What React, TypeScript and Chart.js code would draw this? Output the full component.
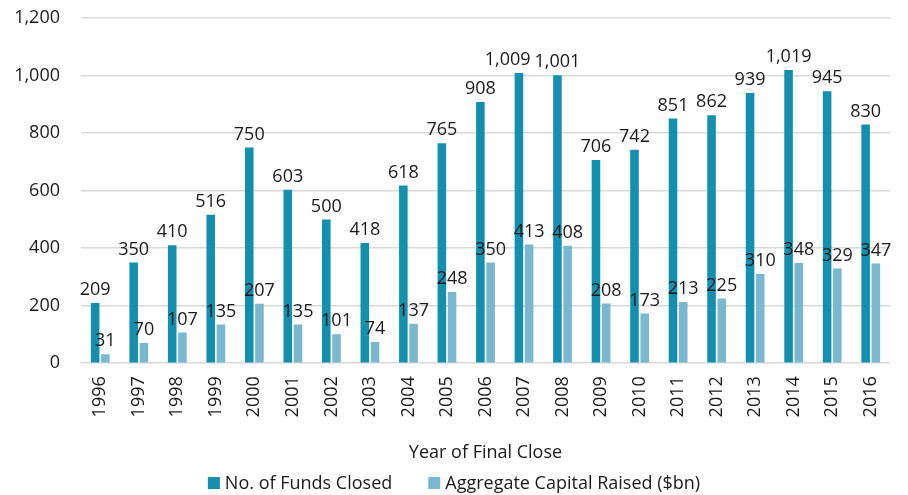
import React, { useEffect, useRef } from "react";
import { Chart, registerables } from "chart.js";

Chart.register(...registerables);

const years = ["1996","1997","1998","1999","2000","2001","2002","2003","2004","2005","2006","2007","2008","2009","2010","2011","2012","2013","2014","2015","2016"];
const fundsClosed = [209,350,410,516,750,603,500,418,618,765,908,1009,1001,706,742,851,862,939,1019,945,830];
const capitalRaised = [31,70,107,135,207,135,101,74,137,248,350,413,408,208,173,213,225,310,348,329,347];
const yTicks = [0, 200, 400, 600, 800, 1000, 1200];
const seriesNames = ["No. of Funds Closed", "Aggregate Capital Raised ($bn)"];
const seriesColors = ["#1490ae", "#7ab8cf"];

const FONT = "'Open Sans', 'Noto Sans', sans-serif";
const TEXT = "#1a1a1a";

const labelPlugin = {
  id: "barLabels",
  afterDatasetsDraw(chart: any) {
    const ctx = chart.ctx;
    ctx.save();
    ctx.font = `18px ${FONT}`;
    ctx.fillStyle = TEXT;
    ctx.textAlign = "center";
    ctx.textBaseline = "bottom";
    chart.data.datasets.forEach((ds: any, di: number) => {
      const meta = chart.getDatasetMeta(di);
      const items = meta.data.map((el: any, i: number) => {
        const txt = ds.data[i].toLocaleString("en-US");
        const w = ctx.measureText(txt).width;
        return { txt, w, x: el.x, y: el.y - 4 };
      });
      for (let i = items.length - 2; i >= 0; i--) {
        const a = items[i], b = items[i + 1];
        if (Math.abs(a.y - b.y) < 18) {
          const aRight = a.x + a.w / 2;
          const bLeft = b.x - b.w / 2;
          if (aRight > bLeft - 4) a.x -= aRight - (bLeft - 4);
        }
      }
      items.forEach((it: any) => ctx.fillText(it.txt, it.x, it.y));
    });
    ctx.restore();
  },
};

const legendPlugin = {
  id: "customLegend",
  afterDraw(chart: any) {
    const ctx = chart.ctx;
    ctx.save();
    ctx.font = `18px ${FONT}`;
    const box = 12, gapText = 5, gapItem = 36;
    const widths = seriesNames.map((n) => ctx.measureText(n).width);
    const total = widths.reduce((s, w) => s + box + gapText + w, 0) + gapItem * (seriesNames.length - 1);
    let x = (chart.width - total) / 2;
    const yc = 483;
    ctx.textBaseline = "middle";
    ctx.textAlign = "left";
    seriesNames.forEach((n, i) => {
      ctx.fillStyle = seriesColors[i];
      ctx.fillRect(x, yc - 6, box, box);
      ctx.fillStyle = TEXT;
      ctx.fillText(n, x + box + gapText, yc + 1);
      x += box + gapText + widths[i] + gapItem;
    });
    ctx.restore();
  },
};

export default function App() {
  const ref = useRef<HTMLCanvasElement>(null);
  useEffect(() => {
    document.body.style.margin = "0";
    const chart = new Chart(ref.current!, {
      type: "bar",
      data: {
        labels: years,
        datasets: [
          { label: seriesNames[0], data: fundsClosed, backgroundColor: seriesColors[0], categoryPercentage: 0.53, barPercentage: 0.84 },
          { label: seriesNames[1], data: capitalRaised, backgroundColor: seriesColors[1], categoryPercentage: 0.53, barPercentage: 0.84 },
        ],
      },
      options: {
        animation: false,
        responsive: false,
        maintainAspectRatio: false,
        layout: { padding: { top: 18, right: 18, left: 0, bottom: 31 } },
        plugins: {
          legend: { display: false },
          tooltip: { enabled: false },
        },
        scales: {
          x: {
            grid: { display: false, drawTicks: false },
            border: { display: false },
            ticks: { minRotation: 90, maxRotation: 90, color: TEXT, font: { family: FONT, size: 18 }, padding: 13 },
            title: { display: true, text: "Year of Final Close", color: TEXT, font: { family: FONT, size: 18 }, padding: { top: 12, bottom: 0 } },
          },
          y: {
            min: 0,
            max: 1200,
            afterBuildTicks: (axis: any) => { axis.ticks = yTicks.map((v) => ({ value: v })); },
            afterFit: (axis: any) => { axis.width = 81; axis.paddingTop = 0; axis.paddingBottom = 0; },
            grid: { color: "#d9d9d9", lineWidth: 1.5, drawTicks: false },
            border: { display: false },
            ticks: { color: TEXT, font: { family: FONT, size: 18 }, padding: 21, callback: (v: any) => Number(v).toLocaleString("en-US") },
          },
        },
      },
      plugins: [labelPlugin, legendPlugin],
    });
    return () => chart.destroy();
  }, []);
  return (
    <div style={{ width: 908, height: 495 }}>
      <canvas ref={ref} width={908} height={495} />
    </div>
  );
}
